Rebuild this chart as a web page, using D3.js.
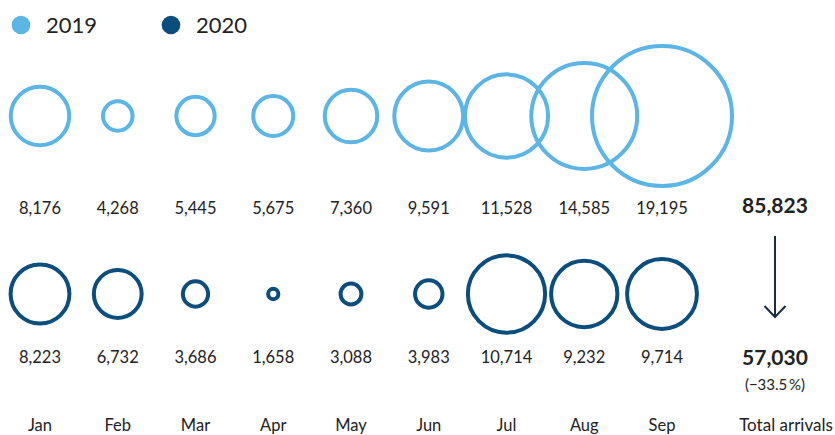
<!DOCTYPE html>
<html>
<head>
<meta charset="utf-8">
<script src="https://cdn.jsdelivr.net/npm/d3@7/dist/d3.min.js"></script>
<style>
  html, body { margin: 0; padding: 0; background: #fff; }
  svg { display: block; font-family: Lato, "Noto Sans", sans-serif; }
</style>
</head>
<body>
<svg id="chart" width="835" height="435"></svg>
<script>
// Monthly arrivals, January to September
const months = ["Jan", "Feb", "Mar", "Apr", "May", "Jun", "Jul", "Aug", "Sep"];
const years = ["2019", "2020"];
const arrivals2019 = [8176, 4268, 5445, 5675, 7360, 9591, 11528, 14585, 19195];
const arrivals2020 = [8223, 6732, 3686, 1658, 3088, 3983, 10714, 9232, 9714];
const totalLabel = "Total arrivals";

const colors = { "2019": "#5bb5e5", "2020": "#0b4e7d" };
const textColor = "#222222";
const strokeW = 4;

const total2019 = d3.sum(arrivals2019);
const total2020 = d3.sum(arrivals2020);
const change = (total2020 - total2019) / total2019 * 100;

const svg = d3.select("#chart");
const fmt = d3.format(",");

// Horizontal layout: one column per month, plus a totals column
const x = d3.scalePoint().domain(months).range([40, 662]);
const xTotal = 775;

// Row positions for each year
const rowY = d3.scaleOrdinal().domain(years).range([116, 294]);
const labelY = d3.scaleOrdinal().domain(years).range([214, 363]);

// Outer radius grows linearly with the number of arrivals
const r = d3.scaleLinear().domain([0, d3.max(arrivals2019)]).range([1, 72]);

// Legend
const legend = svg.append("g");
years.forEach((yr, i) => {
  const g = legend.append("g").attr("transform", `translate(${21 + i * 150},25)`);
  g.append("circle").attr("r", 9.3).attr("fill", colors[yr]);
  g.append("text").attr("x", 25).attr("y", 8)
    .attr("font-size", 22).attr("fill", textColor).text(yr);
});

// Circles and value labels for both years
const series = [
  { year: "2019", values: arrivals2019 },
  { year: "2020", values: arrivals2020 }
];

series.forEach(s => {
  const data = months.map((m, i) => ({ month: m, value: s.values[i] }));
  const g = svg.append("g");
  g.selectAll("circle").data(data).join("circle")
    .attr("cx", d => x(d.month))
    .attr("cy", rowY(s.year))
    .attr("r", d => r(d.value) - strokeW / 2)
    .attr("fill", "none")
    .attr("stroke", colors[s.year])
    .attr("stroke-width", strokeW);
  g.selectAll("text").data(data).join("text")
    .attr("x", d => x(d.month))
    .attr("y", labelY(s.year))
    .attr("text-anchor", "middle")
    .attr("font-size", 16.5)
    .attr("fill", textColor)
    .text(d => fmt(d.value));
});

// Month labels along the bottom
svg.append("g").selectAll("text").data(months).join("text")
  .attr("x", d => x(d))
  .attr("y", 431)
  .attr("text-anchor", "middle")
  .attr("font-size", 16.5)
  .attr("fill", textColor)
  .text(d => d);

// Totals column
const tot = svg.append("g").attr("fill", textColor).attr("text-anchor", "middle");
tot.append("text").attr("x", xTotal).attr("y", 213)
  .attr("font-size", 21).attr("font-weight", 700).text(fmt(total2019));
tot.append("text").attr("x", xTotal).attr("y", 365)
  .attr("font-size", 21).attr("font-weight", 700).text(fmt(total2020));
tot.append("text").attr("x", xTotal).attr("y", 390)
  .attr("font-size", 15)
  .text("(\u2212" + d3.format(".1f")(Math.abs(change)) + "\u2009%)");
tot.append("text").attr("x", 786).attr("y", 431)
  .attr("font-size", 17).text(totalLabel);

// Down arrow between the totals
const arrow = svg.append("g")
  .attr("stroke", "#1b2d42").attr("stroke-width", 2).attr("fill", "none");
arrow.append("line").attr("x1", xTotal).attr("x2", xTotal).attr("y1", 236).attr("y2", 317);
arrow.append("path")
  .attr("d", `M${xTotal - 10.5},${306} L${xTotal},${317} L${xTotal + 10.5},${306}`);
</script>
</body>
</html>
